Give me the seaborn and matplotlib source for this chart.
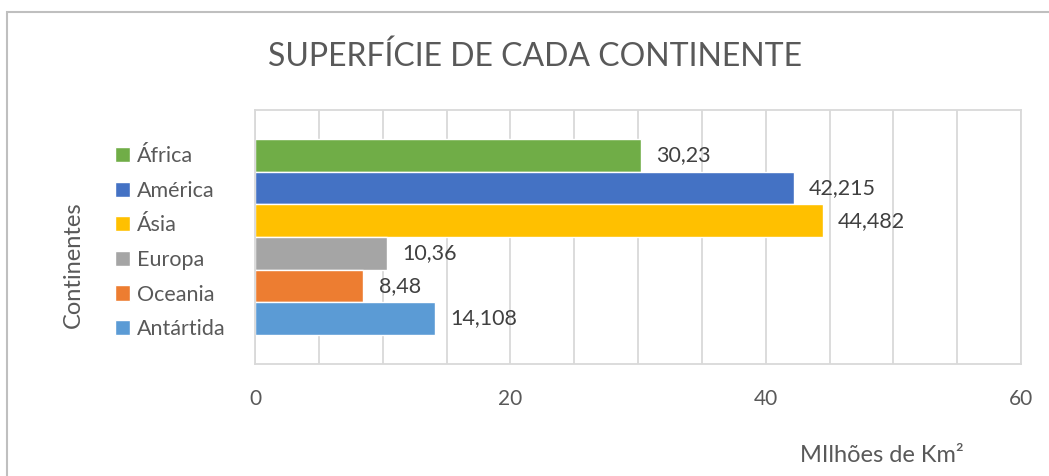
import pandas as pd
import numpy as np
import matplotlib.pyplot as plt
import seaborn as sns
from matplotlib.patches import Rectangle
from matplotlib.ticker import MultipleLocator

# data
continentes = ['África', 'América', 'Ásia', 'Europa', 'Oceania', 'Antártida']
superficie = [30.23, 42.215, 44.482, 10.36, 8.48, 14.108]
cores = ['#70AD47', '#4472C4', '#FFC000', '#A5A5A5', '#ED7D31', '#5B9BD5']
titulo = 'SUPERFÍCIE DE CADA CONTINENTE'

df = pd.DataFrame({'grupo': [''] * len(continentes),
                   'Continente': continentes,
                   'Superficie': superficie})

sns.set_style('white')
plt.rcParams['font.family'] = ['Lato', 'DejaVu Sans']

W, H = 1049, 476
fig = plt.figure(figsize=(W / 100, H / 100), dpi=100)
ax = fig.add_axes([255 / W, 1 - 364 / H, (1021 - 255) / W, (364 - 110) / H])

sns.barplot(data=df, x='Superficie', y='grupo', hue='Continente', hue_order=continentes,
            palette=cores, orient='h', width=0.77, gap=0, saturation=1, ax=ax)

# data labels
for c, v in zip(ax.containers, superficie):
    ax.bar_label(c, labels=[str(v).replace('.', ',')], padding=11,
                 fontsize=15.5, color='#404040')

ax.set_xlim(0, 60)
ax.xaxis.set_major_locator(MultipleLocator(20))
ax.xaxis.set_minor_locator(MultipleLocator(5))
ax.grid(True, which='both', axis='x', color='#d9d9d9', lw=1.3)
ax.set_axisbelow(True)
ax.tick_params(axis='x', which='both', length=0, pad=18, labelsize=15, labelcolor='#595959')
ax.set_yticks([])
ax.set_xlabel('')
ax.set_ylabel('')
for s in ax.spines.values():
    s.set_color('#d9d9d9')
    s.set_linewidth(1.3)

ax.legend(loc='upper left', bbox_to_anchor=(115 / W, 1 - 146 / H), bbox_transform=fig.transFigure,
          frameon=False, fontsize=15.5, handlelength=0.7, handleheight=0.7, handletextpad=0.3,
          labelspacing=0.68, borderpad=0, borderaxespad=0, labelcolor='#595959')

fig.text(535 / W, 1 - 57 / H, titulo, ha='center', va='center', fontsize=23,
         color='#595959')
fig.text(73 / W, 1 - 265 / H, 'Continentes', rotation=90, ha='center', va='center',
         fontsize=17, color='#595959')
fig.text(882 / W, 1 - 455 / H, 'MIlhões de Km²', ha='center', va='center',
         fontsize=17, color='#595959')

# outer chart border
fig.patches.append(Rectangle((7 / W, -0.1), 1.2, 1 - 12 / H + 0.1, transform=fig.transFigure,
                             fill=False, edgecolor='#bfbfbf', lw=1.5))

fig.savefig('out.png', dpi=100)
